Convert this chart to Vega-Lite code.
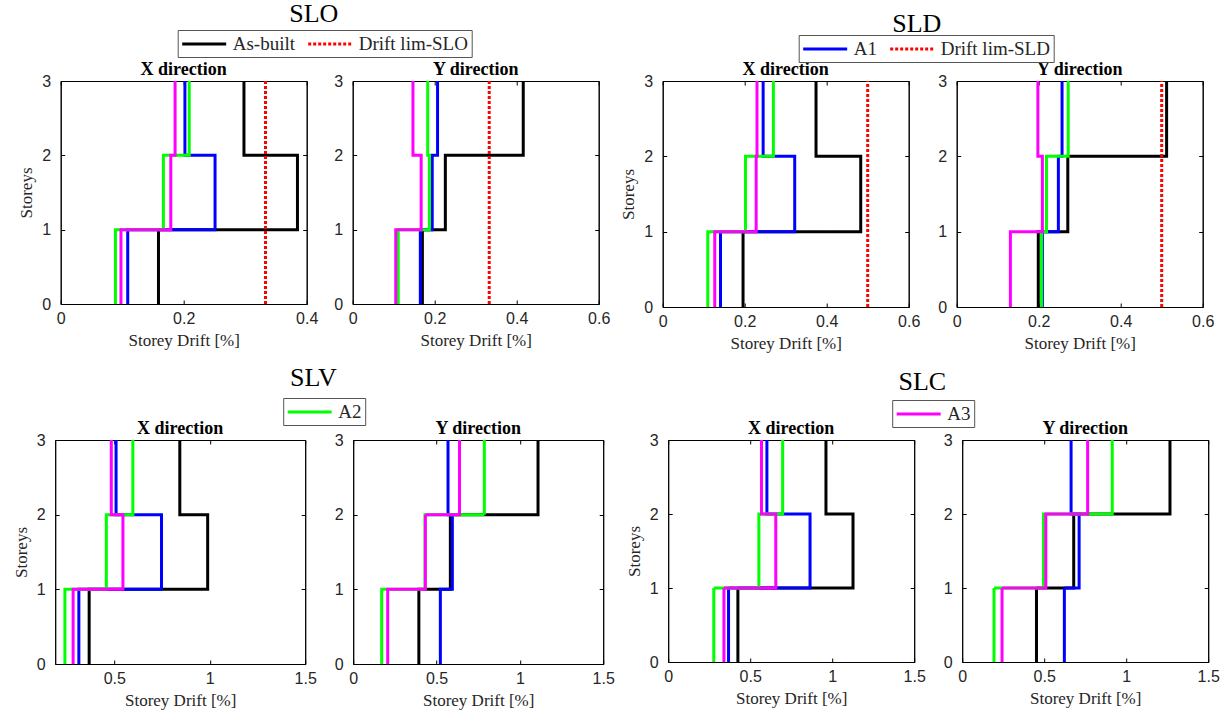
{
"$schema":"https://vega.github.io/schema/vega-lite/v6.json",
"padding":{"left":11,"top":0,"right":2,"bottom":2},
"background":"white",
"config":{
 "view":{"stroke":"black","strokeWidth":1},
 "axis":{"grid":false,"domainColor":"black","tickColor":"black","tickSize":-4,"labelFont":"Liberation Sans","labelFontSize":16,"labelColor":"#262626","labelFlush":false,"titleFont":"Liberation Serif","titleFontSize":17,"titleFontWeight":"normal","titleColor":"#262626","titlePadding":6},
 "axisX":{"format":"~g","labelPadding":10},
 "axisY":{"labelPadding":14},
 "title":{"font":"Liberation Serif","fontSize":18,"fontWeight":"bold","color":"black","offset":-6},
 "legend":{"labelFont":"Liberation Serif","labelFontSize":19,"labelColor":"#262626","symbolType":"M-1,0H3.63","symbolSize":361,"symbolStrokeWidth":3,"labelOffset":30,"strokeColor":"#555555","fillColor":"white","padding":3,"columnPadding":6,"direction":"horizontal","orient":"none","title":null}
},
"datasets":{"d":[
{"p":"SLO-X","s":"As-built","lvl":0,"d":0.159},{"p":"SLO-X","s":"As-built","lvl":1,"d":0.385},{"p":"SLO-X","s":"As-built","lvl":2,"d":0.298},{"p":"SLO-X","s":"As-built","lvl":3,"d":0.298},
{"p":"SLO-X","s":"A1","lvl":0,"d":0.109},{"p":"SLO-X","s":"A1","lvl":1,"d":0.251},{"p":"SLO-X","s":"A1","lvl":2,"d":0.202},{"p":"SLO-X","s":"A1","lvl":3,"d":0.202},
{"p":"SLO-X","s":"A2","lvl":0,"d":0.089},{"p":"SLO-X","s":"A2","lvl":1,"d":0.167},{"p":"SLO-X","s":"A2","lvl":2,"d":0.209},{"p":"SLO-X","s":"A2","lvl":3,"d":0.209},
{"p":"SLO-X","s":"A3","lvl":0,"d":0.098},{"p":"SLO-X","s":"A3","lvl":1,"d":0.179},{"p":"SLO-X","s":"A3","lvl":2,"d":0.186},{"p":"SLO-X","s":"A3","lvl":3,"d":0.186},
{"p":"SLO-X","s":"Drift lim-SLO","lvl":0,"d":0.333},{"p":"SLO-X","s":"Drift lim-SLO","lvl":3,"d":0.333},
{"p":"SLO-Y","s":"As-built","lvl":0,"d":0.170},{"p":"SLO-Y","s":"As-built","lvl":1,"d":0.226},{"p":"SLO-Y","s":"As-built","lvl":2,"d":0.416},{"p":"SLO-Y","s":"As-built","lvl":3,"d":0.416},
{"p":"SLO-Y","s":"A1","lvl":0,"d":0.165},{"p":"SLO-Y","s":"A1","lvl":1,"d":0.194},{"p":"SLO-Y","s":"A1","lvl":2,"d":0.207},{"p":"SLO-Y","s":"A1","lvl":3,"d":0.207},
{"p":"SLO-Y","s":"A2","lvl":0,"d":0.111},{"p":"SLO-Y","s":"A2","lvl":1,"d":0.187},{"p":"SLO-Y","s":"A2","lvl":2,"d":0.183},{"p":"SLO-Y","s":"A2","lvl":3,"d":0.183},
{"p":"SLO-Y","s":"A3","lvl":0,"d":0.105},{"p":"SLO-Y","s":"A3","lvl":1,"d":0.167},{"p":"SLO-Y","s":"A3","lvl":2,"d":0.147},{"p":"SLO-Y","s":"A3","lvl":3,"d":0.147},
{"p":"SLO-Y","s":"Drift lim-SLO","lvl":0,"d":0.333},{"p":"SLO-Y","s":"Drift lim-SLO","lvl":3,"d":0.333},
{"p":"SLD-X","s":"As-built","lvl":0,"d":0.196},{"p":"SLD-X","s":"As-built","lvl":1,"d":0.483},{"p":"SLD-X","s":"As-built","lvl":2,"d":0.374},{"p":"SLD-X","s":"As-built","lvl":3,"d":0.374},
{"p":"SLD-X","s":"A1","lvl":0,"d":0.141},{"p":"SLD-X","s":"A1","lvl":1,"d":0.322},{"p":"SLD-X","s":"A1","lvl":2,"d":0.245},{"p":"SLD-X","s":"A1","lvl":3,"d":0.245},
{"p":"SLD-X","s":"A2","lvl":0,"d":0.110},{"p":"SLD-X","s":"A2","lvl":1,"d":0.202},{"p":"SLD-X","s":"A2","lvl":2,"d":0.270},{"p":"SLD-X","s":"A2","lvl":3,"d":0.270},
{"p":"SLD-X","s":"A3","lvl":0,"d":0.127},{"p":"SLD-X","s":"A3","lvl":1,"d":0.228},{"p":"SLD-X","s":"A3","lvl":2,"d":0.230},{"p":"SLD-X","s":"A3","lvl":3,"d":0.230},
{"p":"SLD-X","s":"Drift lim-SLD","lvl":0,"d":0.5},{"p":"SLD-X","s":"Drift lim-SLD","lvl":3,"d":0.5},
{"p":"SLD-Y","s":"As-built","lvl":0,"d":0.199},{"p":"SLD-Y","s":"As-built","lvl":1,"d":0.271},{"p":"SLD-Y","s":"As-built","lvl":2,"d":0.512},{"p":"SLD-Y","s":"As-built","lvl":3,"d":0.512},
{"p":"SLD-Y","s":"A1","lvl":0,"d":0.209},{"p":"SLD-Y","s":"A1","lvl":1,"d":0.248},{"p":"SLD-Y","s":"A1","lvl":2,"d":0.257},{"p":"SLD-Y","s":"A1","lvl":3,"d":0.257},
{"p":"SLD-Y","s":"A2","lvl":0,"d":0.207},{"p":"SLD-Y","s":"A2","lvl":1,"d":0.219},{"p":"SLD-Y","s":"A2","lvl":2,"d":0.272},{"p":"SLD-Y","s":"A2","lvl":3,"d":0.272},
{"p":"SLD-Y","s":"A3","lvl":0,"d":0.131},{"p":"SLD-Y","s":"A3","lvl":1,"d":0.209},{"p":"SLD-Y","s":"A3","lvl":2,"d":0.198},{"p":"SLD-Y","s":"A3","lvl":3,"d":0.198},
{"p":"SLD-Y","s":"Drift lim-SLD","lvl":0,"d":0.5},{"p":"SLD-Y","s":"Drift lim-SLD","lvl":3,"d":0.5},
{"p":"SLV-X","s":"As-built","lvl":0,"d":0.368},{"p":"SLV-X","s":"As-built","lvl":1,"d":0.989},{"p":"SLV-X","s":"As-built","lvl":2,"d":0.843},{"p":"SLV-X","s":"As-built","lvl":3,"d":0.843},
{"p":"SLV-X","s":"A1","lvl":0,"d":0.314},{"p":"SLV-X","s":"A1","lvl":1,"d":0.747},{"p":"SLV-X","s":"A1","lvl":2,"d":0.509},{"p":"SLV-X","s":"A1","lvl":3,"d":0.509},
{"p":"SLV-X","s":"A2","lvl":0,"d":0.241},{"p":"SLV-X","s":"A2","lvl":1,"d":0.458},{"p":"SLV-X","s":"A2","lvl":2,"d":0.597},{"p":"SLV-X","s":"A2","lvl":3,"d":0.597},
{"p":"SLV-X","s":"A3","lvl":0,"d":0.284},{"p":"SLV-X","s":"A3","lvl":1,"d":0.545},{"p":"SLV-X","s":"A3","lvl":2,"d":0.484},{"p":"SLV-X","s":"A3","lvl":3,"d":0.484},
{"p":"SLV-Y","s":"As-built","lvl":0,"d":0.394},{"p":"SLV-Y","s":"As-built","lvl":1,"d":0.583},{"p":"SLV-Y","s":"As-built","lvl":2,"d":1.109},{"p":"SLV-Y","s":"As-built","lvl":3,"d":1.109},
{"p":"SLV-Y","s":"A1","lvl":0,"d":0.523},{"p":"SLV-Y","s":"A1","lvl":1,"d":0.595},{"p":"SLV-Y","s":"A1","lvl":2,"d":0.569},{"p":"SLV-Y","s":"A1","lvl":3,"d":0.569},
{"p":"SLV-Y","s":"A2","lvl":0,"d":0.171},{"p":"SLV-Y","s":"A2","lvl":1,"d":0.431},{"p":"SLV-Y","s":"A2","lvl":2,"d":0.787},{"p":"SLV-Y","s":"A2","lvl":3,"d":0.787},
{"p":"SLV-Y","s":"A3","lvl":0,"d":0.207},{"p":"SLV-Y","s":"A3","lvl":1,"d":0.433},{"p":"SLV-Y","s":"A3","lvl":2,"d":0.638},{"p":"SLV-Y","s":"A3","lvl":3,"d":0.638},
{"p":"SLC-X","s":"As-built","lvl":0,"d":0.425},{"p":"SLC-X","s":"As-built","lvl":1,"d":1.127},{"p":"SLC-X","s":"As-built","lvl":2,"d":0.962},{"p":"SLC-X","s":"As-built","lvl":3,"d":0.962},
{"p":"SLC-X","s":"A1","lvl":0,"d":0.368},{"p":"SLC-X","s":"A1","lvl":1,"d":0.865},{"p":"SLC-X","s":"A1","lvl":2,"d":0.602},{"p":"SLC-X","s":"A1","lvl":3,"d":0.602},
{"p":"SLC-X","s":"A2","lvl":0,"d":0.278},{"p":"SLC-X","s":"A2","lvl":1,"d":0.553},{"p":"SLC-X","s":"A2","lvl":2,"d":0.698},{"p":"SLC-X","s":"A2","lvl":3,"d":0.698},
{"p":"SLC-X","s":"A3","lvl":0,"d":0.340},{"p":"SLC-X","s":"A3","lvl":1,"d":0.656},{"p":"SLC-X","s":"A3","lvl":2,"d":0.569},{"p":"SLC-X","s":"A3","lvl":3,"d":0.569},
{"p":"SLC-Y","s":"As-built","lvl":0,"d":0.453},{"p":"SLC-Y","s":"As-built","lvl":1,"d":0.680},{"p":"SLC-Y","s":"As-built","lvl":2,"d":1.267},{"p":"SLC-Y","s":"As-built","lvl":3,"d":1.267},
{"p":"SLC-Y","s":"A1","lvl":0,"d":0.623},{"p":"SLC-Y","s":"A1","lvl":1,"d":0.713},{"p":"SLC-Y","s":"A1","lvl":2,"d":0.664},{"p":"SLC-Y","s":"A1","lvl":3,"d":0.664},
{"p":"SLC-Y","s":"A2","lvl":0,"d":0.194},{"p":"SLC-Y","s":"A2","lvl":1,"d":0.496},{"p":"SLC-Y","s":"A2","lvl":2,"d":0.915},{"p":"SLC-Y","s":"A2","lvl":3,"d":0.915},
{"p":"SLC-Y","s":"A3","lvl":0,"d":0.243},{"p":"SLC-Y","s":"A3","lvl":1,"d":0.510},{"p":"SLC-Y","s":"A3","lvl":2,"d":0.765},{"p":"SLC-Y","s":"A3","lvl":3,"d":0.765}
]},
"data":{"name":"d"},
"vconcat":[
 {"hconcat":[
  {"title":{"text":"SLO","fontSize":26,"fontWeight":"normal","font":"Liberation Serif","anchor":"middle","offset":3},
   "spacing":14,
   "hconcat":[
    {"width":246,"height":223,"title":"X direction","transform":[{"filter":"datum.p == 'SLO-X'"}],
     "layer":[
      {"mark":{"type":"line","interpolate":"step-before","strokeWidth":3},
       "encoding":{
        "x":{"field":"d","type":"quantitative","scale":{"domain":[0,0.4],"nice":false,"zero":false},"axis":{"values":[0,0.2,0.4],"title":"Storey Drift [%]"}},
        "y":{"field":"lvl","type":"quantitative","scale":{"domain":[0,3],"nice":false},"axis":{"values":[0,1,2,3],"title":"Storeys"}},
        "color":{"field":"s","type":"nominal","scale":{"domain":["As-built","A1","A2","A3","Drift lim-SLO","Drift lim-SLD"],"range":["#000000","#0000ff","#00ff00","#ff00ff","#ff0000","#ff0000"]},"legend":{"values":["As-built","Drift lim-SLO"],"legendX":117,"legendY":-51}},
        "strokeDash":{"field":"s","type":"nominal","scale":{"domain":["As-built","A1","A2","A3","Drift lim-SLO","Drift lim-SLD"],"range":[[1,0],[1,0],[1,0],[1,0],[3,2],[3,2]]},"legend":{"values":["As-built","Drift lim-SLO"],"legendX":117,"legendY":-51}},
        "order":{"field":"lvl","type":"quantitative"}}},
      {"mark":{"type":"point","opacity":0},
       "encoding":{
        "x":{"field":"d","type":"quantitative","scale":{"domain":[0,0.4],"nice":false,"zero":false},"axis":{"orient":"top","values":[0,0.2,0.4],"labels":false,"title":null}},
        "y":{"field":"lvl","type":"quantitative","scale":{"domain":[0,3],"nice":false},"axis":{"orient":"right","values":[0,1,2,3],"labels":false,"title":null}}}}
     ],
     "resolve":{"axis":{"x":"independent","y":"independent"}}},
    {"width":246,"height":223,"title":"Y direction","transform":[{"filter":"datum.p == 'SLO-Y'"}],
     "layer":[
      {"mark":{"type":"line","interpolate":"step-before","strokeWidth":3},
       "encoding":{
        "x":{"field":"d","type":"quantitative","scale":{"domain":[0,0.6],"nice":false,"zero":false},"axis":{"values":[0,0.2,0.4,0.6],"title":"Storey Drift [%]"}},
        "y":{"field":"lvl","type":"quantitative","scale":{"domain":[0,3],"nice":false},"axis":{"values":[0,1,2,3],"title":null}},
        "color":{"field":"s","type":"nominal","scale":{"domain":["As-built","A1","A2","A3","Drift lim-SLO","Drift lim-SLD"],"range":["#000000","#0000ff","#00ff00","#ff00ff","#ff0000","#ff0000"]},"legend":{"values":["As-built","Drift lim-SLO"],"legendX":117,"legendY":-51}},
        "strokeDash":{"field":"s","type":"nominal","scale":{"domain":["As-built","A1","A2","A3","Drift lim-SLO","Drift lim-SLD"],"range":[[1,0],[1,0],[1,0],[1,0],[3,2],[3,2]]},"legend":{"values":["As-built","Drift lim-SLO"],"legendX":117,"legendY":-51}},
        "order":{"field":"lvl","type":"quantitative"}}},
      {"mark":{"type":"point","opacity":0},
       "encoding":{
        "x":{"field":"d","type":"quantitative","scale":{"domain":[0,0.6],"nice":false,"zero":false},"axis":{"orient":"top","values":[0,0.2,0.4,0.6],"labels":false,"title":null}},
        "y":{"field":"lvl","type":"quantitative","scale":{"domain":[0,3],"nice":false},"axis":{"orient":"right","values":[0,1,2,3],"labels":false,"title":null}}}}
     ],
     "resolve":{"axis":{"x":"independent","y":"independent"}}}
   ],
   "resolve":{"scale":{"x":"independent"}}},
  {"title":{"text":"SLD","fontSize":26,"fontWeight":"normal","font":"Liberation Serif","anchor":"middle","offset":-2},
   "spacing":16,
   "hconcat":[
    {"width":246,"height":226,"title":"X direction","transform":[{"filter":"datum.p == 'SLD-X'"}],
     "layer":[
      {"mark":{"type":"line","interpolate":"step-before","strokeWidth":3},
       "encoding":{
        "x":{"field":"d","type":"quantitative","scale":{"domain":[0,0.6],"nice":false,"zero":false},"axis":{"values":[0,0.2,0.4,0.6],"title":"Storey Drift [%]"}},
        "y":{"field":"lvl","type":"quantitative","scale":{"domain":[0,3],"nice":false},"axis":{"values":[0,1,2,3],"title":"Storeys"}},
        "color":{"field":"s","type":"nominal","scale":{"domain":["As-built","A1","A2","A3","Drift lim-SLO","Drift lim-SLD"],"range":["#000000","#0000ff","#00ff00","#ff00ff","#ff0000","#ff0000"]},"legend":{"values":["A1","Drift lim-SLD"],"legendX":136,"legendY":-46}},
        "strokeDash":{"field":"s","type":"nominal","scale":{"domain":["As-built","A1","A2","A3","Drift lim-SLO","Drift lim-SLD"],"range":[[1,0],[1,0],[1,0],[1,0],[3,2],[3,2]]},"legend":{"values":["A1","Drift lim-SLD"],"legendX":136,"legendY":-46}},
        "order":{"field":"lvl","type":"quantitative"}}},
      {"mark":{"type":"point","opacity":0},
       "encoding":{
        "x":{"field":"d","type":"quantitative","scale":{"domain":[0,0.6],"nice":false,"zero":false},"axis":{"orient":"top","values":[0,0.2,0.4,0.6],"labels":false,"title":null}},
        "y":{"field":"lvl","type":"quantitative","scale":{"domain":[0,3],"nice":false},"axis":{"orient":"right","values":[0,1,2,3],"labels":false,"title":null}}}}
     ],
     "resolve":{"axis":{"x":"independent","y":"independent"}}},
    {"width":246,"height":226,"title":"Y direction","transform":[{"filter":"datum.p == 'SLD-Y'"}],
     "layer":[
      {"mark":{"type":"line","interpolate":"step-before","strokeWidth":3},
       "encoding":{
        "x":{"field":"d","type":"quantitative","scale":{"domain":[0,0.6],"nice":false,"zero":false},"axis":{"values":[0,0.2,0.4,0.6],"title":"Storey Drift [%]"}},
        "y":{"field":"lvl","type":"quantitative","scale":{"domain":[0,3],"nice":false},"axis":{"values":[0,1,2,3],"title":null}},
        "color":{"field":"s","type":"nominal","scale":{"domain":["As-built","A1","A2","A3","Drift lim-SLO","Drift lim-SLD"],"range":["#000000","#0000ff","#00ff00","#ff00ff","#ff0000","#ff0000"]},"legend":{"values":["A1","Drift lim-SLD"],"legendX":136,"legendY":-46}},
        "strokeDash":{"field":"s","type":"nominal","scale":{"domain":["As-built","A1","A2","A3","Drift lim-SLO","Drift lim-SLD"],"range":[[1,0],[1,0],[1,0],[1,0],[3,2],[3,2]]},"legend":{"values":["A1","Drift lim-SLD"],"legendX":136,"legendY":-46}},
        "order":{"field":"lvl","type":"quantitative"}}},
      {"mark":{"type":"point","opacity":0},
       "encoding":{
        "x":{"field":"d","type":"quantitative","scale":{"domain":[0,0.6],"nice":false,"zero":false},"axis":{"orient":"top","values":[0,0.2,0.4,0.6],"labels":false,"title":null}},
        "y":{"field":"lvl","type":"quantitative","scale":{"domain":[0,3],"nice":false},"axis":{"orient":"right","values":[0,1,2,3],"labels":false,"title":null}}}}
     ],
     "resolve":{"axis":{"x":"independent","y":"independent"}}}
   ],
   "resolve":{"scale":{"x":"independent"}}}
 ],
 "spacing":8,
 "resolve":{"legend":{"color":"independent","strokeDash":"independent"}}},
 {"hconcat":[
  {"title":{"text":"SLV","fontSize":26,"fontWeight":"normal","font":"Liberation Serif","anchor":"middle","offset":7},
   "spacing":16,
   "hconcat":[
    {"width":250,"height":224,"title":"X direction","transform":[{"filter":"datum.p == 'SLV-X'"}],
     "layer":[
      {"mark":{"type":"line","interpolate":"step-before","strokeWidth":3},
       "encoding":{
        "x":{"field":"d","type":"quantitative","scale":{"domain":[0.19,1.5],"nice":false,"zero":false},"axis":{"values":[0.5,1,1.5],"title":"Storey Drift [%]"}},
        "y":{"field":"lvl","type":"quantitative","scale":{"domain":[0,3],"nice":false},"axis":{"values":[0,1,2,3],"title":"Storeys"}},
        "color":{"field":"s","type":"nominal","scale":{"domain":["As-built","A1","A2","A3","Drift lim-SLO","Drift lim-SLD"],"range":["#000000","#0000ff","#00ff00","#ff00ff","#ff0000","#ff0000"]},"legend":{"values":["A2"],"legendX":228,"legendY":-42}},
        "strokeDash":{"field":"s","type":"nominal","scale":{"domain":["As-built","A1","A2","A3","Drift lim-SLO","Drift lim-SLD"],"range":[[1,0],[1,0],[1,0],[1,0],[3,2],[3,2]]},"legend":{"values":["A2"],"legendX":228,"legendY":-42}},
        "order":{"field":"lvl","type":"quantitative"}}},
      {"mark":{"type":"point","opacity":0},
       "encoding":{
        "x":{"field":"d","type":"quantitative","scale":{"domain":[0.19,1.5],"nice":false,"zero":false},"axis":{"orient":"top","values":[0.5,1,1.5],"labels":false,"title":null}},
        "y":{"field":"lvl","type":"quantitative","scale":{"domain":[0,3],"nice":false},"axis":{"orient":"right","values":[0,1,2,3],"labels":false,"title":null}}}}
     ],
     "resolve":{"axis":{"x":"independent","y":"independent"}}},
    {"width":250,"height":224,"title":"Y direction","transform":[{"filter":"datum.p == 'SLV-Y'"}],
     "layer":[
      {"mark":{"type":"line","interpolate":"step-before","strokeWidth":3},
       "encoding":{
        "x":{"field":"d","type":"quantitative","scale":{"domain":[0,1.5],"nice":false,"zero":false},"axis":{"values":[0,0.5,1,1.5],"title":"Storey Drift [%]"}},
        "y":{"field":"lvl","type":"quantitative","scale":{"domain":[0,3],"nice":false},"axis":{"values":[0,1,2,3],"title":null}},
        "color":{"field":"s","type":"nominal","scale":{"domain":["As-built","A1","A2","A3","Drift lim-SLO","Drift lim-SLD"],"range":["#000000","#0000ff","#00ff00","#ff00ff","#ff0000","#ff0000"]},"legend":{"values":["A2"],"legendX":228,"legendY":-42}},
        "strokeDash":{"field":"s","type":"nominal","scale":{"domain":["As-built","A1","A2","A3","Drift lim-SLO","Drift lim-SLD"],"range":[[1,0],[1,0],[1,0],[1,0],[3,2],[3,2]]},"legend":{"values":["A2"],"legendX":228,"legendY":-42}},
        "order":{"field":"lvl","type":"quantitative"}}},
      {"mark":{"type":"point","opacity":0},
       "encoding":{
        "x":{"field":"d","type":"quantitative","scale":{"domain":[0,1.5],"nice":false,"zero":false},"axis":{"orient":"top","values":[0,0.5,1,1.5],"labels":false,"title":null}},
        "y":{"field":"lvl","type":"quantitative","scale":{"domain":[0,3],"nice":false},"axis":{"orient":"right","values":[0,1,2,3],"labels":false,"title":null}}}}
     ],
     "resolve":{"axis":{"x":"independent","y":"independent"}}}
   ],
   "resolve":{"scale":{"x":"independent"}}},
  {"title":{"text":"SLC","fontSize":26,"fontWeight":"normal","font":"Liberation Serif","anchor":"middle","offset":5},
   "spacing":16,
   "hconcat":[
    {"width":246,"height":222,"title":"X direction","transform":[{"filter":"datum.p == 'SLC-X'"}],
     "layer":[
      {"mark":{"type":"line","interpolate":"step-before","strokeWidth":3},
       "encoding":{
        "x":{"field":"d","type":"quantitative","scale":{"domain":[0,1.5],"nice":false,"zero":false},"axis":{"values":[0,0.5,1,1.5],"title":"Storey Drift [%]"}},
        "y":{"field":"lvl","type":"quantitative","scale":{"domain":[0,3],"nice":false},"axis":{"values":[0,1,2,3],"title":"Storeys"}},
        "color":{"field":"s","type":"nominal","scale":{"domain":["As-built","A1","A2","A3","Drift lim-SLO","Drift lim-SLD"],"range":["#000000","#0000ff","#00ff00","#ff00ff","#ff0000","#ff0000"]},"legend":{"values":["A3"],"legendX":224,"legendY":-40}},
        "strokeDash":{"field":"s","type":"nominal","scale":{"domain":["As-built","A1","A2","A3","Drift lim-SLO","Drift lim-SLD"],"range":[[1,0],[1,0],[1,0],[1,0],[3,2],[3,2]]},"legend":{"values":["A3"],"legendX":224,"legendY":-40}},
        "order":{"field":"lvl","type":"quantitative"}}},
      {"mark":{"type":"point","opacity":0},
       "encoding":{
        "x":{"field":"d","type":"quantitative","scale":{"domain":[0,1.5],"nice":false,"zero":false},"axis":{"orient":"top","values":[0,0.5,1,1.5],"labels":false,"title":null}},
        "y":{"field":"lvl","type":"quantitative","scale":{"domain":[0,3],"nice":false},"axis":{"orient":"right","values":[0,1,2,3],"labels":false,"title":null}}}}
     ],
     "resolve":{"axis":{"x":"independent","y":"independent"}}},
    {"width":246,"height":222,"title":"Y direction","transform":[{"filter":"datum.p == 'SLC-Y'"}],
     "layer":[
      {"mark":{"type":"line","interpolate":"step-before","strokeWidth":3},
       "encoding":{
        "x":{"field":"d","type":"quantitative","scale":{"domain":[0,1.5],"nice":false,"zero":false},"axis":{"values":[0,0.5,1,1.5],"title":"Storey Drift [%]"}},
        "y":{"field":"lvl","type":"quantitative","scale":{"domain":[0,3],"nice":false},"axis":{"values":[0,1,2,3],"title":null}},
        "color":{"field":"s","type":"nominal","scale":{"domain":["As-built","A1","A2","A3","Drift lim-SLO","Drift lim-SLD"],"range":["#000000","#0000ff","#00ff00","#ff00ff","#ff0000","#ff0000"]},"legend":{"values":["A3"],"legendX":224,"legendY":-40}},
        "strokeDash":{"field":"s","type":"nominal","scale":{"domain":["As-built","A1","A2","A3","Drift lim-SLO","Drift lim-SLD"],"range":[[1,0],[1,0],[1,0],[1,0],[3,2],[3,2]]},"legend":{"values":["A3"],"legendX":224,"legendY":-40}},
        "order":{"field":"lvl","type":"quantitative"}}},
      {"mark":{"type":"point","opacity":0},
       "encoding":{
        "x":{"field":"d","type":"quantitative","scale":{"domain":[0,1.5],"nice":false,"zero":false},"axis":{"orient":"top","values":[0,0.5,1,1.5],"labels":false,"title":null}},
        "y":{"field":"lvl","type":"quantitative","scale":{"domain":[0,3],"nice":false},"axis":{"orient":"right","values":[0,1,2,3],"labels":false,"title":null}}}}
     ],
     "resolve":{"axis":{"x":"independent","y":"independent"}}}
   ],
   "resolve":{"scale":{"x":"independent"}}}
 ],
 "spacing":9,
 "resolve":{"legend":{"color":"independent","strokeDash":"independent"}}}
],
"spacing":12,
"center":true,
"resolve":{"legend":{"color":"independent","strokeDash":"independent"}}
}
